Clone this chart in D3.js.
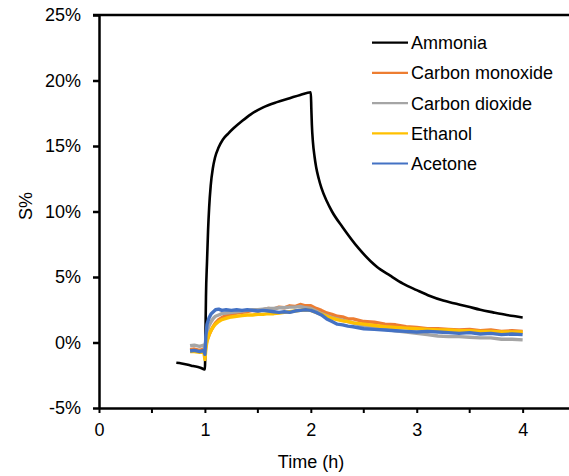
<!DOCTYPE html>
<html><head><meta charset="utf-8">
<script src="https://cdn.jsdelivr.net/npm/d3@7"></script>
<style>body{margin:0;background:#fff}svg{display:block}text{font-family:"Liberation Sans",Arial,sans-serif;fill:#000}</style>
</head><body><svg id="c" width="569" height="476"></svg>
<script>
// ---- data ----
const seriesNames = ["Ammonia","Carbon monoxide","Carbon dioxide","Ethanol","Acetone"];
const seriesColors = ["#000000","#ED7D31","#A5A5A5","#FFC000","#4472C4"];
const xTicks = [0,1,2,3,4];
const xMinor = [0.5,1.5,2.5,3.5];
const yTicks = [-5,0,5,10,15,20,25];

const tAmmonia = [0.73,0.78,0.84,0.89,0.95,1.0,1.005,1.01,1.02,1.03,1.04,1.055,1.075,1.095,1.13,1.17,1.22,1.27,1.35,1.43,1.55,1.68,1.8,1.9,2.0,2.005,2.01,2.02,2.035,2.05,2.075,2.1,2.15,2.2,2.3,2.45,2.62,2.75,2.87,3.0,3.125,3.25,3.35,3.48,3.6,3.72,3.85,3.93,4.0];
const sAmmonia = [-1.55,-1.6,-1.7,-1.8,-1.9,-2.05,0.5,3.5,6.2,8.6,10.3,12.0,13.3,14.1,14.9,15.5,15.95,16.35,16.9,17.4,17.95,18.35,18.65,18.9,19.1,17.8,16.6,15.3,14.2,13.4,12.5,11.8,10.8,10.0,8.8,7.2,5.8,5.1,4.5,4.0,3.55,3.2,3.0,2.75,2.5,2.3,2.1,2.0,1.9];

const tGas = [0.86,0.9,0.95,0.99,1.0,1.01,1.02,1.04,1.06,1.08,1.1,1.13,1.16,1.2,1.25,1.3,1.35,1.4,1.45,1.5,1.55,1.6,1.65,1.7,1.75,1.8,1.85,1.9,1.95,2.0,2.05,2.1,2.15,2.2,2.25,2.3,2.35,2.4,2.5,2.6,2.7,2.8,2.9,3.0,3.1,3.2,3.3,3.4,3.5,3.6,3.7,3.8,3.9,4.0];
const sCO = [-0.55,-0.5,-0.6,-0.5,-0.9,-0.2,0.2,0.6,0.95,1.25,1.5,1.75,1.9,2.05,2.15,2.25,2.3,2.35,2.45,2.4,2.5,2.6,2.55,2.7,2.65,2.8,2.75,2.9,2.8,2.8,2.6,2.45,2.25,2.15,2.0,1.95,1.8,1.8,1.6,1.55,1.4,1.35,1.2,1.15,1.05,1.05,1.0,0.95,1.0,0.9,0.95,0.85,0.9,0.85];
const sCO2 = [-0.25,-0.2,-0.3,-0.2,-0.5,0.3,0.8,1.3,1.6,1.85,2.0,2.1,2.2,2.25,2.3,2.35,2.4,2.45,2.5,2.5,2.55,2.6,2.6,2.65,2.65,2.7,2.7,2.75,2.65,2.6,2.4,2.2,2.05,1.9,1.8,1.7,1.6,1.5,1.25,1.1,1.0,0.9,0.8,0.7,0.6,0.5,0.45,0.45,0.4,0.35,0.35,0.25,0.25,0.2];
const sEthanol = [-0.7,-0.7,-0.75,-0.7,-1.3,-0.4,0.1,0.6,0.95,1.2,1.4,1.6,1.75,1.85,1.95,2.0,2.05,2.1,2.1,2.15,2.15,2.2,2.2,2.25,2.3,2.35,2.4,2.45,2.5,2.45,2.3,2.15,2.0,1.85,1.75,1.65,1.6,1.5,1.4,1.3,1.2,1.15,1.1,1.05,1.0,0.95,0.95,0.9,0.9,0.85,0.85,0.8,0.8,0.8];
const sAcetone = [-0.65,-0.6,-0.7,-0.6,-0.9,0.6,1.4,1.9,2.2,2.35,2.5,2.55,2.45,2.5,2.45,2.5,2.45,2.5,2.45,2.4,2.45,2.4,2.35,2.3,2.35,2.3,2.4,2.45,2.5,2.45,2.3,2.1,1.8,1.6,1.4,1.35,1.25,1.2,1.05,1.0,0.95,0.9,0.85,0.8,0.85,0.8,0.75,0.7,0.75,0.65,0.7,0.6,0.65,0.6];

const series = [
  {name: seriesNames[0], color: seriesColors[0], t: tAmmonia, s: sAmmonia, w: 2.6, smooth: true},
  {name: seriesNames[1], color: seriesColors[1], t: tGas, s: sCO, w: 3.4},
  {name: seriesNames[2], color: seriesColors[2], t: tGas, s: sCO2, w: 3.4},
  {name: seriesNames[3], color: seriesColors[3], t: tGas, s: sEthanol, w: 3.4},
  {name: seriesNames[4], color: seriesColors[4], t: tGas, s: sAcetone, w: 3.4}
];

// ---- chart ----
const svg = d3.select("#c");
const x = d3.scaleLinear().domain([0,4.5]).range([99,575.6]);
const y = d3.scaleLinear().domain([-5,25]).range([408,15]);

series.forEach(sr=>{
  const pts = sr.t.map((t,i)=>[t, sr.s[i]]);
  const line = d3.line().x(d=>x(d[0])).y(d=>y(d[1]))
    .curve(sr.smooth ? d3.curveMonotoneX : d3.curveLinear);
  svg.append("path").attr("d", line(pts)).attr("fill","none")
    .attr("stroke", sr.color).attr("stroke-width", sr.w).attr("stroke-linejoin","round");
});

// top border line
svg.append("line").attr("x1", x(0)-6).attr("x2", 569).attr("y1", y(25)).attr("y2", y(25))
  .attr("stroke","#000").attr("stroke-width",2.5);

// y axis
const ya = svg.append("g").attr("transform",`translate(${x(0)},0)`)
  .call(d3.axisLeft(y).tickValues(yTicks).tickSize(6).tickSizeOuter(0).tickPadding(12).tickFormat(d=>d+"%"));
ya.select(".domain").attr("stroke","#000").attr("stroke-width",2.5);
ya.selectAll(".tick line").attr("stroke","#000").attr("stroke-width",2.5);
ya.selectAll(".tick text").attr("font-size",18).attr("font-family","Liberation Sans, Arial, sans-serif").attr("fill","#000");

// x axis
const xa = svg.append("g").attr("transform",`translate(0,${y(-5)})`)
  .call(d3.axisBottom(x).tickValues(xTicks).tickSize(5).tickSizeOuter(0).tickPadding(10).tickFormat(d3.format("d")));
xa.select(".domain").attr("stroke","#000").attr("stroke-width",2.5);
xa.selectAll(".tick line").attr("stroke","#000").attr("stroke-width",2);
xa.selectAll(".tick text").attr("font-size",18).attr("font-family","Liberation Sans, Arial, sans-serif").attr("fill","#000");
svg.append("g").selectAll("line").data(xMinor).join("line")
  .attr("x1",d=>x(d)).attr("x2",d=>x(d)).attr("y1",y(-5)).attr("y2",y(-5)+5)
  .attr("stroke","#000").attr("stroke-width",2);

// axis titles
svg.append("text").attr("x",311).attr("y",468).attr("text-anchor","middle").attr("font-size",18).text("Time (h)");
svg.append("text").attr("transform","translate(32,206) rotate(-90)").attr("text-anchor","middle").attr("font-size",18).text("S%");

// legend
const lg = svg.append("g");
series.forEach((sr,i)=>{
  const ly = 42.7 + i*30.2;
  lg.append("line").attr("x1",372).attr("x2",408).attr("y1",ly).attr("y2",ly)
    .attr("stroke",sr.color).attr("stroke-width",2.2);
  lg.append("text").attr("x",411).attr("y",ly+6.5).attr("font-size",18).text(sr.name);
});
</script></body></html>
